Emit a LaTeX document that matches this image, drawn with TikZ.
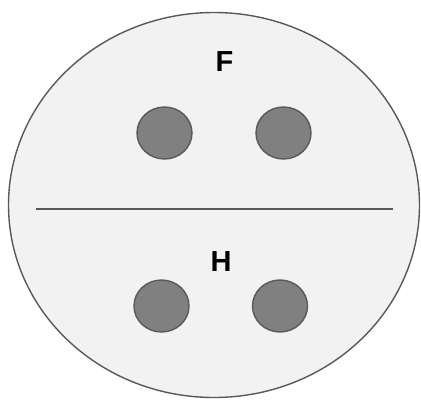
\documentclass[tikz,border=0pt]{standalone}
\usepackage{fontspec}
\setmainfont{Liberation Sans}
\usetikzlibrary{shapes.geometric}

\definecolor{rimgray}{HTML}{595959}
\definecolor{palegray}{HTML}{F2F2F2}
\definecolor{dotgray}{HTML}{808080}

\begin{document}
\begin{tikzpicture}[
    x=1pt, y=-1pt,
    every node/.style={inner sep=0pt, outer sep=0pt},
    hall/.style={draw=rimgray, line width=1.4pt, ellipse, fill=palegray, minimum width=411pt, minimum height=385pt},
    seat/.style={draw=rimgray, line width=1.4pt, ellipse, fill=dotgray, minimum width=55pt, minimum height=52pt},
    tag/.style={font=\fontsize{29}{30}\selectfont\bfseries},
    divider/.style={draw=rimgray, line width=1.4pt}
  ]
  \useasboundingbox (0,0) rectangle (421,402);

  \node[hall] (room) at (214,205) {};

  % upper half
  \node[tag] (ftag) at (224.5,62) {F};
  \node[seat] (f1) at (164.5,133) {};
  \node[seat] (f2) at (283.5,133) {};

  % split line
  \coordinate (divl) at (36,209);
  \coordinate (divr) at (393,209);
  \draw[divider] (divl) -- (divr);

  % lower half
  \node[tag] (htag) at (221,262) {H};
  \node[seat] (h1) at (161.5,306) {};
  \node[seat] (h2) at (280,306) {};
\end{tikzpicture}
\end{document}
